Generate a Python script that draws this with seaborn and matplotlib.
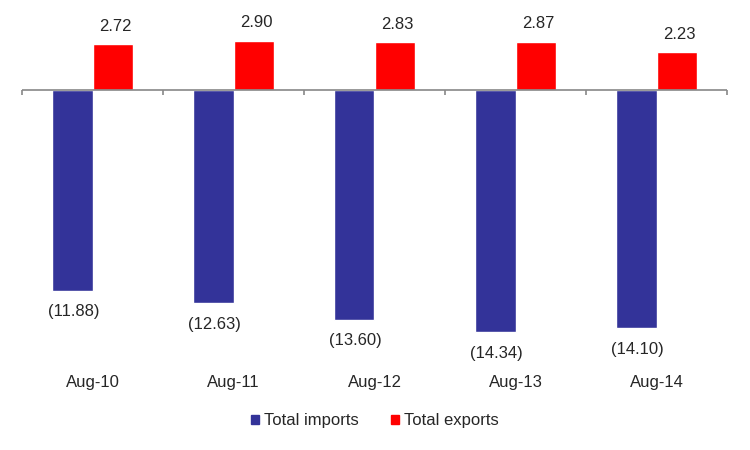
import pandas as pd
import numpy as np
import seaborn as sns
import matplotlib.pyplot as plt
from matplotlib.patches import Patch

# Dados
meses = ['Aug-10', 'Aug-11', 'Aug-12', 'Aug-13', 'Aug-14']
importacoes = [-11.88, -12.63, -13.60, -14.34, -14.10]
exportacoes = [2.72, 2.90, 2.83, 2.87, 2.23]
series = ['Total imports', 'Total exports']
cores = ['#333399', '#FF0000']

df = pd.DataFrame({
    'mes': meses * 2,
    'valor': importacoes + exportacoes,
    'serie': [series[0]] * len(meses) + [series[1]] * len(meses),
})

sns.set_style('white')
plt.rcParams['font.family'] = ['Liberation Sans', 'DejaVu Sans']

fig = plt.figure(figsize=(7.5, 4.5), dpi=100)
ax = fig.add_axes([22 / 750, 1 - 352 / 450, 705 / 750, (352 - 10.6) / 450])

sns.barplot(data=df, x='mes', y='valor', hue='serie', palette=cores,
            width=0.57, saturation=1, ax=ax, legend=False)

ax.set_xlim(-0.5, len(meses) - 0.5)
ax.set_ylim(-15.5, 4.7)
sns.despine(ax=ax, left=True, bottom=True, top=True, right=True)
ax.set_xticks([])
ax.set_yticks([])
ax.set_xlabel('')
ax.set_ylabel('')

# linha do zero e marcas entre categorias
ax.axhline(0, color='#888888', lw=1.2, zorder=3)
ax.vlines(np.arange(-0.5, len(meses)), -0.3, 0, color='#888888', lw=1.2,
          clip_on=False, zorder=3)

# rótulos dos valores
for cont in ax.containers:
    for barra in cont:
        v = barra.get_height()
        xc = barra.get_x() + barra.get_width() / 2
        if v >= 0:
            ax.annotate(f'{v:.2f}', (xc, v), xytext=(2, 13),
                        textcoords='offset points', ha='center', va='center',
                        fontsize=12)
        else:
            ax.annotate(f'({abs(v):.2f})', (xc, v), xytext=(1, -15),
                        textcoords='offset points', ha='center', va='center',
                        fontsize=12)

# rótulos das categorias
for i, m in enumerate(meses):
    ax.text(i, -17.28, m, ha='center', va='center', fontsize=12, clip_on=False)

handles = [Patch(color=c, label=s) for c, s in zip(cores, series)]
fig.legend(handles=handles, loc='center', bbox_to_anchor=(0.5, 1 - 421 / 450),
           ncol=2, frameon=False, fontsize=12, handlelength=0.5,
           handleheight=0.5, handletextpad=0.3, columnspacing=1.9)

plt.savefig('out.png', dpi=100)
